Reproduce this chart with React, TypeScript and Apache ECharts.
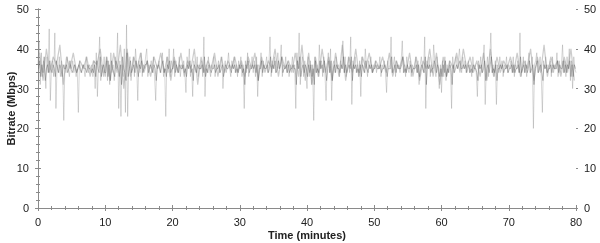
import React, { useEffect, useRef } from "react";
import * as echarts from "echarts";

// Main bitrate trace: 6 samples per minute (rows = 2 minutes each)
const mainStep = 1 / 6;
const mainValues: number[] = [
  36, 42, 31, 39, 33, 37, 35, 30, 38, 34, 45, 27,
  35, 37, 33, 44, 25, 36, 34, 38, 33, 37, 35, 22,
  36, 34, 38, 35, 33, 36, 35, 37, 34, 36, 33, 35,
  24, 37, 35, 34, 36, 35, 33, 38, 35, 34, 36, 35,
  36, 33, 37, 30, 39, 28, 36, 43, 32, 36, 34, 38,
  33, 38, 32, 37, 31, 39, 34, 36, 32, 38, 35, 44,
  25, 37, 23, 36, 33, 40, 24, 46, 23, 36, 38, 32,
  35, 38, 33, 40, 36, 27, 37, 34, 39, 33, 36, 35,
  38, 40, 33, 36, 35, 37, 34, 38, 33, 27, 36, 35,
  37, 34, 36, 39, 33, 35, 23, 38, 34, 40, 33, 37,
  35, 40, 33, 37, 35, 34, 38, 33, 36, 35, 37, 34,
  29, 38, 35, 40, 33, 36, 28, 37, 35, 34, 38, 33,
  36, 35, 37, 33, 43, 28, 36, 34, 38, 35, 33, 36,
  35, 38, 33, 36, 35, 37, 34, 36, 38, 30, 35, 37,
  34, 36, 39, 35, 33, 37, 35, 38, 34, 36, 33, 37,
  35, 38, 33, 36, 25, 37, 34, 39, 33, 36, 35, 38,
  34, 37, 33, 38, 28, 36, 35, 39, 33, 37, 35, 36,
  38, 34, 36, 43, 33, 37, 35, 38, 34, 36, 39, 35,
  37, 41, 33, 36, 35, 38, 34, 37, 33, 36, 35, 38,
  34, 36, 25, 39, 35, 44, 31, 36, 38, 33, 37, 34,
  30, 38, 33, 37, 31, 36, 22, 38, 34, 36, 33, 41,
  35, 37, 33, 38, 34, 27, 36, 39, 34, 40, 27, 36,
  37, 34, 38, 35, 36, 33, 37, 35, 42, 34, 38, 33,
  36, 38, 34, 43, 26, 37, 35, 38, 34, 36, 33, 37,
  28, 38, 35, 34, 40, 36, 33, 37, 35, 38, 34, 36,
  35, 37, 34, 36, 35, 38, 33, 36, 35, 37, 34, 29,
  37, 35, 36, 43, 34, 36, 38, 33, 37, 35, 36, 34,
  37, 42, 34, 36, 33, 38, 35, 34, 37, 33, 36, 35,
  36, 38, 34, 37, 31, 36, 38, 35, 34, 43, 25, 37,
  35, 38, 33, 36, 34, 41, 37, 33, 38, 35, 30, 36,
  29, 37, 33, 38, 32, 36, 34, 37, 35, 25, 38, 34,
  36, 38, 35, 37, 40, 36, 34, 38, 35, 37, 34, 36,
  37, 34, 36, 33, 38, 35, 36, 34, 28, 37, 35, 38,
  34, 36, 41, 26, 35, 38, 33, 37, 44, 34, 36, 33,
  37, 26, 36, 34, 38, 35, 37, 33, 36, 35, 38, 34,
  36, 35, 37, 34, 38, 33, 36, 35, 37, 34, 44, 33,
  35, 38, 34, 37, 33, 36, 39, 34, 36, 38, 20, 36,
  37, 39, 34, 36, 38, 33, 24, 37, 35, 38, 34, 36,
  35, 37, 33, 38, 34, 36, 35, 39, 33, 37, 34, 36,
  41, 34, 37, 33, 38, 35, 40, 32, 37, 30, 38, 35,
  34,
];

// Core trace (tighter around 35): 6 samples per minute, offset by 1/12 minute
const coreStep = 1 / 6;
const coreOffset = 1 / 12;
const coreValues: number[] = [
  35, 37, 33, 36, 34, 38, 32, 35, 36, 34, 37, 35,
  34, 36, 35, 33, 37, 35, 34, 36, 35, 33, 36, 35,
  35, 36, 34, 35, 37, 35, 34, 35, 36, 35, 34, 35,
  36, 35, 34, 35, 36, 35, 35, 34, 36, 35, 35, 34,
  35, 34, 36, 33, 37, 35, 34, 38, 33, 35, 36, 34,
  34, 37, 33, 36, 32, 37, 35, 34, 33, 37, 36, 35,
  33, 36, 31, 38, 35, 34, 32, 39, 33, 35, 37, 34,
  35, 36, 34, 37, 35, 33, 36, 35, 37, 34, 35, 36,
  36, 37, 34, 35, 36, 35, 34, 36, 35, 32, 35, 36,
  35, 34, 36, 37, 34, 35, 33, 36, 35, 37, 34, 35,
  35, 37, 34, 36, 35, 34, 36, 35, 35, 36, 34, 35,
  33, 36, 35, 37, 34, 35, 32, 36, 35, 34, 36, 35,
  35, 35, 36, 34, 38, 33, 35, 34, 36, 35, 34, 35,
  35, 36, 34, 35, 35, 36, 34, 35, 36, 33, 35, 36,
  35, 35, 36, 35, 34, 36, 35, 36, 34, 35, 34, 36,
  35, 36, 34, 35, 31, 36, 35, 37, 34, 35, 35, 36,
  35, 36, 34, 36, 32, 35, 35, 37, 34, 36, 35, 35,
  36, 34, 35, 38, 34, 36, 35, 37, 34, 35, 37, 35,
  36, 38, 34, 35, 35, 36, 34, 36, 34, 35, 35, 36,
  35, 35, 31, 37, 35, 38, 33, 35, 36, 34, 36, 35,
  33, 36, 34, 36, 33, 35, 31, 37, 34, 35, 34, 37,
  35, 36, 34, 37, 35, 32, 35, 37, 34, 37, 32, 35,
  36, 34, 36, 35, 35, 34, 36, 35, 38, 34, 36, 34,
  35, 36, 35, 38, 32, 36, 35, 36, 34, 35, 34, 36,
  33, 36, 35, 34, 37, 35, 34, 36, 35, 36, 34, 35,
  35, 36, 35, 35, 35, 36, 34, 35, 35, 36, 35, 33,
  35, 35, 35, 38, 34, 35, 36, 34, 36, 35, 35, 35,
  36, 38, 34, 35, 34, 36, 35, 35, 36, 34, 35, 35,
  35, 36, 34, 36, 33, 35, 36, 35, 34, 38, 31, 36,
  35, 36, 34, 35, 35, 37, 36, 34, 36, 35, 33, 35,
  33, 36, 34, 37, 33, 35, 34, 36, 35, 31, 36, 34,
  35, 36, 35, 36, 37, 35, 35, 36, 35, 36, 34, 35,
  36, 34, 35, 34, 36, 35, 35, 34, 32, 36, 35, 36,
  34, 35, 37, 32, 35, 36, 34, 36, 38, 34, 35, 34,
  36, 32, 35, 35, 36, 35, 36, 34, 35, 35, 36, 34,
  35, 35, 36, 34, 36, 34, 35, 35, 36, 34, 38, 34,
  35, 36, 34, 36, 34, 35, 37, 34, 35, 36, 31, 35,
  36, 37, 34, 35, 36, 34, 32, 36, 35, 36, 34, 35,
  35, 36, 34, 36, 35, 35, 35, 37, 34, 36, 35, 35,
  37, 34, 36, 34, 36, 35, 37, 33, 36, 33, 36, 35,
];

// Lighter secondary trace: 2 samples per minute, offset by a quarter minute
const lightStep = 0.5;
const lightOffset = 0.25;
const lightValues: number[] = [
  39, 32, 40, 34, 38, 36, 41, 31, 38, 35, 39, 34, 37, 35, 38, 33, 37, 36, 40, 33,
  38, 32, 39, 34, 41, 30, 40, 33, 38, 35, 39, 34, 37, 33, 38, 35, 39, 34, 38, 32,
  38, 34, 39, 33, 37, 35, 40, 31, 38, 34, 37, 35, 39, 33, 38, 34, 37, 35, 38, 34,
  37, 33, 38, 35, 39, 32, 38, 34, 37, 35, 40, 33, 38, 35, 37, 34, 39, 33, 41, 32,
  39, 31, 38, 33, 40, 34, 38, 32, 39, 33, 41, 32, 38, 34, 40, 33, 38, 35, 39, 34,
  37, 35, 38, 34, 39, 33, 37, 35, 38, 34, 39, 33, 38, 32, 37, 35, 40, 33, 39, 31,
  38, 33, 37, 35, 39, 34, 40, 35, 38, 34, 37, 33, 39, 32, 40, 33, 38, 34, 37, 35,
  38, 34, 39, 33, 37, 35, 40, 32, 38, 34, 41, 33, 38, 35, 37, 33, 38, 34, 40, 32,
];

const xName = "Time (minutes)";
const yName = "Bitrate (Mbps)";

const axisColor = "#8a8a8a";
const labelColor = "#222";
const font = "Liberation Sans, Arial, sans-serif";

export default function App() {
  const ref = useRef<HTMLDivElement>(null);

  useEffect(() => {
    if (!ref.current) return;
    const chart = echarts.init(ref.current, undefined, { renderer: "svg" });

    const mainData = mainValues.map((v, i) => [i * mainStep, v]);
    const coreData = coreValues.map((v, i) => [i * coreStep + coreOffset, v]);
    const lightData = lightValues.map((v, i) => [i * lightStep + lightOffset, v]);

    const xBase = {
      type: "value" as const,
      min: 0,
      max: 80,
      interval: 10,
      splitLine: { show: false },
    };
    const yBase = {
      type: "value" as const,
      min: 0,
      max: 50,
      interval: 10,
      splitLine: { show: false },
    };
    const tick = { show: true, inside: true, length: 3, lineStyle: { color: axisColor } };
    const minor = { show: true, splitNumber: 5, length: 2, lineStyle: { color: axisColor } };
    const outTick = { show: true, inside: false, length: 2, lineStyle: { color: axisColor } };
    const line = { show: true, lineStyle: { color: axisColor, width: 1 } };
    const label = { fontFamily: font, fontSize: 11, color: labelColor };
    const nameStyle = { fontFamily: font, fontSize: 11, fontWeight: "bold", color: labelColor };

    chart.setOption({
      animation: false,
      grid: { left: 38, right: 24, top: 9, bottom: 35, containLabel: false, outerBoundsMode: "none" },
      xAxis: [
        {
          ...xBase,
          position: "bottom",
          name: xName,
          nameLocation: "middle",
          nameGap: 21,
          nameMoveOverlap: false,
          nameTextStyle: nameStyle,
          axisLine: line,
          axisTick: tick,
          minorTick: minor,
          axisLabel: { ...label, margin: 8 },
        },
        {
          ...xBase,
          position: "top",
          axisLine: line,
          axisTick: tick,
          minorTick: minor,
          axisLabel: { show: false },
        },
        {
          ...xBase,
          position: "bottom",
          axisLine: { show: false },
          axisTick: outTick,
          axisLabel: { show: false },
        },
      ],
      yAxis: [
        {
          ...yBase,
          position: "left",
          name: yName,
          nameLocation: "middle",
          nameGap: 22,
          nameRotate: 90,
          nameMoveOverlap: false,
          nameTextStyle: nameStyle,
          axisLine: line,
          axisTick: tick,
          minorTick: minor,
          axisLabel: { ...label, margin: 9 },
        },
        {
          ...yBase,
          position: "right",
          axisLine: line,
          axisTick: tick,
          minorTick: minor,
          axisLabel: { ...label, margin: 8 },
        },
        {
          ...yBase,
          position: "left",
          axisLine: { show: false },
          axisTick: outTick,
          axisLabel: { show: false },
        },
        {
          ...yBase,
          position: "right",
          axisLine: { show: false },
          axisTick: outTick,
          axisLabel: { show: false },
        },
      ],
      series: [
        {
          type: "line",
          data: lightData,
          xAxisIndex: 0,
          yAxisIndex: 0,
          showSymbol: false,
          symbol: "none",
          lineStyle: { color: "rgba(195,195,195,0.85)", width: 1.2 },
          z: 1,
        },
        {
          type: "line",
          data: mainData,
          xAxisIndex: 0,
          yAxisIndex: 0,
          showSymbol: false,
          symbol: "none",
          lineStyle: { color: "rgba(140,140,140,0.7)", width: 0.5 },
          z: 2,
        },
        {
          type: "line",
          data: coreData,
          xAxisIndex: 0,
          yAxisIndex: 0,
          showSymbol: false,
          symbol: "none",
          lineStyle: { color: "rgba(95,95,95,0.75)", width: 0.55 },
          z: 3,
        },
      ],
    });

    return () => chart.dispose();
  }, []);

  return (
    <div
      ref={ref}
      style={{ position: "fixed", left: 0, top: 0, width: 600, height: 243 }}
    />
  );
}
